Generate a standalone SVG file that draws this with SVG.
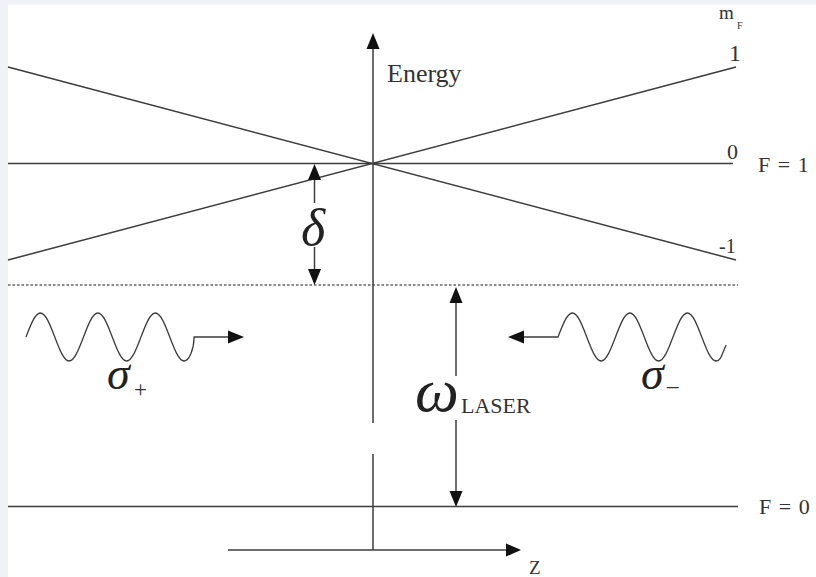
<svg xmlns="http://www.w3.org/2000/svg" width="816" height="577" viewBox="0 0 816 577">
<style>
.ln{stroke:#3c3c3c;stroke-width:1.5;fill:none}
.wave{stroke:#3c3c3c;stroke-width:1.3;fill:none}
.dot{stroke:#8a8a8a;stroke-width:2;stroke-dasharray:2.5,2;fill:none}
.t{font-family:"Liberation Serif","Times New Roman",serif;fill:#333333}
.g{font-family:"Liberation Serif","Times New Roman",serif;font-style:italic;fill:#222222}
.ah{fill:#111111}
</style>
<rect width="816" height="577" fill="#f1f1f8"/>
<rect x="8" y="5" width="808" height="572" fill="#ffffff"/>
<g id="connectors">
  <line class="ln" x1="8" y1="67" x2="736" y2="260"/>
  <line class="ln" x1="8" y1="260" x2="736" y2="67"/>
  <line class="ln" x1="8" y1="163.5" x2="733" y2="163.5"/>
  <line class="dot" x1="8" y1="285" x2="738" y2="285"/>
  <line class="ln" x1="8" y1="506.5" x2="738" y2="506.5"/>
  <line class="ln" x1="373" y1="48" x2="373" y2="423"/>
  <line class="ln" x1="373" y1="454" x2="373" y2="550"/>
  <polygon class="ah" points="373,33 366.5,49 379.5,49"/>
  <line class="ln" x1="228" y1="550" x2="508" y2="550"/>
  <polygon class="ah" points="521,550 506,543.5 506,556.5"/>
  <line class="ln" x1="314.5" y1="178" x2="314.5" y2="203"/>
  <line class="ln" x1="314.5" y1="247" x2="314.5" y2="271"/>
  <polygon class="ah" points="314.5,164 308,180 321,180"/>
  <polygon class="ah" points="314.5,285 308,269 321,269"/>
  <line class="ln" x1="456" y1="300" x2="456" y2="376"/>
  <line class="ln" x1="456" y1="420" x2="456" y2="494"/>
  <polygon class="ah" points="456,287 449.5,303 462.5,303"/>
  <polygon class="ah" points="456,507 449.5,491 462.5,491"/>
</g>
<g id="wave-plus">
  <path class="wave" d="M26,337 c4.69,-12.3 9.17,-24 14.375,-24 s9.69,11.7 14.375,24 s9.17,24 14.375,24 s9.69,-11.7 14.375,-24 s9.17,-24 14.375,-24 s9.69,11.7 14.375,24 s9.17,24 14.375,24 s9.69,-11.7 14.375,-24 s9.17,-24 14.375,-24 s9.69,11.7 14.375,24 s9.17,24 14.375,24 s9.69,-11.7 10,-24 L230,337"/>
  <polygon class="ah" points="244,337 228,330.5 228,343.5"/>
  <text class="g" x="107" y="389" font-size="46">σ</text>
  <text class="t" x="134" y="397" font-size="23">+</text>
</g>
<g id="wave-minus">
  <path class="wave" d="M524,337 L558,337 c4.69,-12.3 9.17,-24 14.375,-24 s9.69,11.7 14.375,24 s9.17,24 14.375,24 s9.69,-11.7 14.375,-24 s9.17,-24 14.375,-24 s9.69,11.7 14.375,24 s9.17,24 14.375,24 s9.69,-11.7 14.375,-24 s9.17,-24 14.375,-24 s9.69,11.7 14.375,24 s9.17,24 14.375,24 s6,-8 10,-16"/>
  <polygon class="ah" points="508,337 524,330.5 524,343.5"/>
  <text class="g" x="641" y="389" font-size="46">σ</text>
  <text class="t" x="667" y="393" font-size="23">–</text>
</g>
<g id="labels">
  <text class="t" x="387" y="82" font-size="26">Energy</text>
  <text class="t" x="719" y="19" font-size="19">m</text>
  <text class="t" x="737" y="29" font-size="10">F</text>
  <text class="t" x="729" y="61" font-size="24">1</text>
  <text class="t" x="727" y="159" font-size="22">0</text>
  <text class="t" x="758" y="172" font-size="22" word-spacing="2">F = 1</text>
  <text class="t" x="719" y="253" font-size="20">-1</text>
  <text class="t" x="759" y="514" font-size="22" word-spacing="2">F = 0</text>
  <text class="t" x="529" y="574" font-size="19">Z</text>
  <text class="g" x="301" y="245" font-size="52">δ</text>
  <text class="g" x="415" y="411" font-size="62">ω</text>
  <text class="t" x="461" y="413" font-size="22">LASER</text>
</g>
</svg>
